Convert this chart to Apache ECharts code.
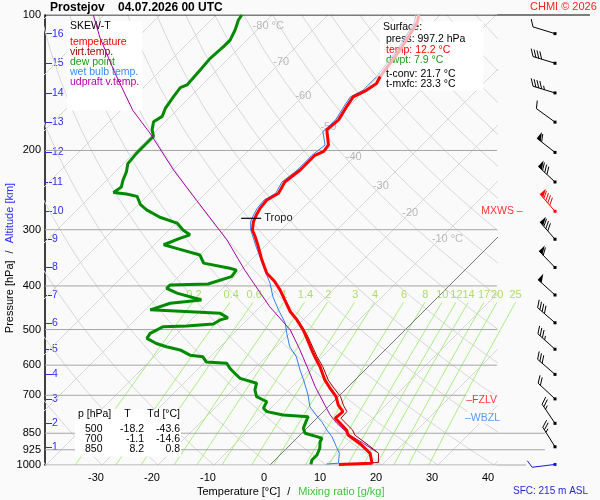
<!DOCTYPE html>
<html>
<head>
<meta charset="utf-8" />
<title>Skew-T Prostejov</title>
<script src="https://cdn.jsdelivr.net/npm/echarts@6.0.0/dist/echarts.min.js"></script>
<style>
  html, body { margin: 0; padding: 0; background: #fafafa; }
  #main { width: 600px; height: 500px; }
</style>
</head>
<body>
<div id="main"></div>
<script>
// sounding: [pressure hPa, value °C]
const temperature = [[997.2, 12.2], [991, 17.9], [942, 15.8], [903, 12.8], [858, 8.6], [836, 7.4], [801, 4.5], [787, 3.3],
  [761, 3.5], [736, 1.5], [705, -0.4], [675, -3.0], [647, -5.4], [605, -8.6], [575, -11.3], [555, -13.1], [519, -16.4],
  [501, -18.2], [476, -21.1], [456, -23.8], [430, -26.8], [408, -29.5], [390, -32.1], [375, -34.8], [350, -38.1],
  [327, -41.1], [311, -43.4], [300.5, -45.1], [288, -46.4], [278, -47.1], [269, -47.6], [258, -47.9], [249, -47.0],
  [235, -47.9], [221, -47.3], [205, -47.3], [201, -46.4], [194.5, -46.7], [180, -49.7], [171, -49.4], [160, -50.3],
  [152, -50.9], [147, -49.7], [142, -49.1], [137, -49.7], [119.6, -50.9], [104, -52.7], [100, -53.8]];
const virtTemp = [[997.2, 12.6], [987, 18.9], [942, 17.3], [903, 14.0], [858, 9.8], [836, 8.5], [801, 5.5], [787, 4.3],
  [761, 4.2], [736, 2.4], [705, 0.4], [675, -2.3], [647, -4.8], [605, -8.1], [575, -10.9], [555, -12.7], [519, -16.1],
  [501, -18.0], [476, -20.9], [456, -23.6], [430, -26.7], [408, -29.4]];
const dewPoint = [[997.2, 7.2], [975, 6.6], [950, 6.6], [918, 5.9], [888, 4.8], [872, 4.5], [865, 3.3], [850, 0.6],
  [829, -0.6], [794, -1.5], [781, -1.8], [774, -6.6], [761, -10.1], [748, -11.3], [723, -11.9], [717, -12.8], [705, -14.6],
  [681, -16.1], [658, -17.0], [642, -20.8], [626, -22.6], [610, -24.4], [594, -25.9], [590, -29.8], [575, -31.3],
  [570, -33.9], [555, -36.6], [546, -39.6], [537, -42.0], [523, -44.6], [519, -45.2], [510, -44.9], [501, -44.3],
  [493, -43.8], [491, -39.7], [486, -35.3], [476, -34.8], [471, -33.8], [460, -36.0], [452, -49.1], [437, -46.7],
  [430, -41.7], [415, -47.3], [405, -50.0], [398, -50.0], [396, -43.4], [381.5, -40.5], [369, -40.8], [365.5, -42.3],
  [356, -47.9], [341.5, -50.0], [330, -55.4], [324, -58.3], [313.5, -56.6], [308, -55.4], [300.5, -57.5], [290, -59.8],
  [281.5, -63.9], [271, -67.6], [264, -69.6], [253, -71.7], [250, -74.0], [248, -76.6], [241, -76.2], [233, -77.1],
  [223, -78.0], [214, -79.2], [203, -79.5], [193, -79.5], [186, -79.5], [180, -80.9], [172.6, -82.1], [168, -81.5],
  [161, -82.4], [152, -83.0], [145, -83.4], [143, -82.7], [132.5, -83.0], [125, -83.3], [117.6, -83.0], [113.7, -83.0],
  [108, -83.9], [102.6, -85.1], [100, -85.4]];
const wetBulb = [[995, 9.9], [991, 11.9], [942, 10.3], [911, 8.6], [865, 6.0], [836, 3.9], [801, 1.5], [787, 0.3],
  [742, -3.3], [699, -5.7], [647, -9.2], [615, -11.6], [575, -14.6], [546, -17.6], [510, -20.5], [484, -22.6],
  [452, -26.2], [423, -29.5], [395, -32.4], [369, -35.7], [327, -41.5], [300.5, -45.4], [288, -46.9], [278, -47.6],
  [269, -48.1], [258, -48.4], [249, -47.5], [235, -48.4], [221, -47.8], [205, -47.8], [194.5, -47.3], [181.6, -50.1],
  [171, -49.9], [160, -50.8], [152, -51.4], [147, -50.3], [137, -50.3], [119.6, -51.4], [104, -53.2], [100, -54.3]];
const updraft = [[934, 16.6], [895, 12.8], [858, 8.9], [808, 4.5], [774, 1.8], [736, -0.9], [670, -5.9], [615, -10.1],
  [555, -15.2], [501, -20.5], [445, -28.3], [369, -39.3], [316, -47.9], [258, -60.4], [221, -69.9], [183, -80.7],
  [163, -87.8], [134, -97.9], [112, -106.8], [100, -111.9]];

// axes and reference lines
const pressureTicks = [100, 200, 300, 400, 500, 600, 700, 850, 925, 1000];
const tempTicks = [-30, -20, -10, 0, 10, 20, 30, 40];
const kmLevels = [1, 2, 3, 4, 5, 6, 7, 8, 9, 10, 11, 12, 13, 14, 15, 16];
const kmPressure = [911, 808, 713, 629, 553, 483, 419, 364, 315, 273, 235, 202, 173, 149, 128, 110];
const isoLabelT = [-80, -70, -60, -50, -40, -30, -20, -10];
const isoLabelP = [106, 127, 151, 177, 207, 240, 275, 315];
const mixRatios = [0.2, 0.4, 0.6, 1, 1.4, 2, 3, 4, 6, 8, 10, 12, 14, 17, 20, 25];

// wind at each km level (direction °, speed kt) and at the surface
const windDir = [328, 326, 313, 311, 312, 311, 312, 316, 319, 319, 313, 308, 306, 287, 287, 287];
const windSpd = [25, 25, 20, 30, 35, 40, 50, 60, 80, 90, 80, 60, 10, 45, 40, 10];
const sfcWind = [997.2, 263, 10];

// levels and tables
const fzlvP = 717, wbzlP = 785;
const tropo = [283, -46.7];
const tableP = [500, 700, 850];
const tableT = ['-18.2', '-1.1', '8.2'];
const tableTd = ['-43.6', '-14.6', '0.8'];
const surface = { press: '997.2', temp: '12.2', dwpt: '7.9', tconv: '21.7', tmxfc: '23.3' };

var myChart = echarts.init(document.getElementById('main'));

const FONT = '"Liberation Sans", Arial, sans-serif';
const SKEW = 450 / 5.6;              // x shift (°C) per decade of pressure
const X_MIN = -225 / 5.6, X_MAX = 227 / 5.6;
const LABEL_SHIFT = 6 / 5.6;         // temperature labels sit slightly left of their isotherm foot
const BARB_COL = 58;                 // wind column inside the right grid
const MIX_TOP = 435, MIX_LABEL_P = 419, PALE_ABOVE = 137;
const lg = Math.log10;

function skewPoint(p, t) { return [t + SKEW * lg(1000 / p), lg(p)]; }
function profile(rows) { return rows.map(r => skewPoint(r[0], r[1])); }
function dewFromMix(w, p) {
  const l = Math.log(w * p / (622 + w) / 6.112);
  return 243.5 * l / (17.67 - l);
}

// background families
const isotherms = [], adiabats = [], mixLines = [];
for (let t = -120; t <= 40; t += 10) {
  if (t !== 0) isotherms.push({ coords: [skewPoint(1000, t), skewPoint(100, t)] });
}
for (let th = -40; th <= 200; th += 10) {
  const c = [];
  for (let p = 1000; p >= 100; p -= 20) c.push(skewPoint(p, (th + 273.15) * Math.pow(p / 1000, 0.2857) - 273.15));
  adiabats.push({ coords: c });
}
mixRatios.forEach(w => {
  const c = [];
  for (let p = 1000; p > MIX_TOP; p -= 50) c.push(skewPoint(p, dewFromMix(w, p)));
  c.push(skewPoint(MIX_TOP, dewFromMix(w, MIX_TOP)));
  mixLines.push({ coords: c });
});

function bgLines(data, color, extra) {
  return Object.assign({
    type: 'lines', coordinateSystem: 'cartesian2d', xAxisIndex: 0, yAxisIndex: 0,
    polyline: true, clip: true, silent: true, z: 1,
    lineStyle: { color: color, width: 1, opacity: 1 }, data: data
  }, extra || {});
}

function curve(rows, color, width) {
  return {
    type: 'line', data: profile(rows), xAxisIndex: 0, yAxisIndex: 0,
    symbol: 'none', showSymbol: false, silent: true, z: 3,
    lineStyle: { color: color, width: width }, itemStyle: { color: color }
  };
}
const lower = rows => rows.filter(r => r[0] >= PALE_ABOVE);
const upper = rows => rows.filter(r => r[0] <= PALE_ABOVE);

// wind barb drawn from [log p, dir, speed]
function barb(colorOf) {
  return function (params, api) {
    const c = api.coord([BARB_COL, api.value(0)]);
    const a = api.value(1) * Math.PI / 180;
    let spd = api.value(2);
    const ux = Math.sin(a), uy = -Math.cos(a);
    const nx = -uy, ny = ux;
    const col = colorOf(params.dataIndex);
    const L = 23;
    const tip = [c[0] + ux * L, c[1] + uy * L];
    const at = s => [tip[0] - ux * s, tip[1] - uy * s];
    const st = { stroke: col, lineWidth: 1 };
    const kids = [
      { type: 'line', shape: { x1: c[0], y1: c[1], x2: tip[0], y2: tip[1] }, style: st },
      { type: 'rect', shape: { x: c[0] - 1.5, y: c[1] - 1.5, width: 3, height: 3 }, style: { fill: col } }
    ];
    let s = 0;
    while (spd >= 50) {
      const p0 = at(s), p1 = at(s + 5);
      kids.push({ type: 'polygon', shape: { points: [p0, p1, [p0[0] + nx * 8, p0[1] + ny * 8]] }, style: { fill: col } });
      s += 6; spd -= 50;
    }
    while (spd >= 10) {
      const p0 = at(s);
      kids.push({ type: 'line', shape: { x1: p0[0], y1: p0[1], x2: p0[0] + nx * 7 + ux * 4, y2: p0[1] + ny * 7 + uy * 4 }, style: st });
      s += 3; spd -= 10;
    }
    if (spd >= 5) {
      const p0 = at(s);
      kids.push({ type: 'line', shape: { x1: p0[0], y1: p0[1], x2: p0[0] + nx * 3.5 + ux * 2, y2: p0[1] + ny * 3.5 + uy * 2 }, style: st });
    }
    return { type: 'group', children: kids };
  };
}

const maxWindIdx = windSpd.indexOf(Math.max.apply(null, windSpd));

const series = [];
series.push(bgLines(isotherms, '#d7d7d7'));
series.push(bgLines(adiabats, '#d7d7d7'));
series.push(bgLines(mixLines, '#a9ee86', { clip: false }));
series.push(bgLines([{ coords: [skewPoint(1000, 0), skewPoint(100, 0)] }], '#777777'));
series.push(bgLines(pressureTicks.map(p => ({
  coords: [[X_MIN, lg(p)], [X_MAX, lg(p)]],
  lineStyle: p === 100 ? { color: '#000000' } : {}
})), '#a6a6a6'));
// extensions of some pressure lines into the wind column
series.push(bgLines([
  { coords: [[0, lg(100)], [93, lg(100)]], lineStyle: { color: '#000000' } },
  { coords: [[0, lg(850)], [48, lg(850)]] },
  { coords: [[0, lg(925)], [48, lg(925)]] },
  { coords: [[0, lg(1000)], [29, lg(1000)]] }
], '#a6a6a6', { xAxisIndex: 1, yAxisIndex: 2, clip: false }));

// isotherm and mixing-ratio labels
series.push({
  type: 'scatter', symbolSize: 0, silent: true, z: 1, clip: false,
  data: isoLabelT.map((t, i) => skewPoint(isoLabelP[i], t)),
  label: {
    show: true, position: 'inside', align: 'left', offset: [-8, 0], color: '#a9a9a9', fontSize: 11,
    formatter: p => isoLabelT[p.dataIndex] + (p.dataIndex === 0 || p.dataIndex === isoLabelT.length - 1 ? ' °C' : '')
  }
});
series.push({
  type: 'scatter', symbolSize: 0, silent: true, z: 1, clip: false,
  data: mixRatios.map(w => skewPoint(MIX_LABEL_P, dewFromMix(w, MIX_LABEL_P))),
  label: {
    show: true, position: 'inside', align: 'center', offset: [-4, 0], color: '#98d63e', fontSize: 11,
    formatter: p => String(mixRatios[p.dataIndex])
  }
});

series.push(curve(dewPoint, '#008a00', 3));
series.push(curve(lower(wetBulb), '#2f7cf0', 1));
series.push(curve(upper(wetBulb), '#aecbf7', 1));
series.push(curve(updraft, '#a400a4', 1));
series.push(curve(virtTemp, '#9c0000', 1));
series.push(curve(upper(temperature), '#ffb0b0', 3));
series.push(curve(lower(temperature), '#ff0000', 3));

// tropopause mark
series.push({
  type: 'custom', xAxisIndex: 0, yAxisIndex: 0, z: 4, silent: true, clip: false,
  data: [skewPoint(tropo[0], tropo[1])],
  renderItem: function (params, api) {
    const c = api.coord([api.value(0), api.value(1)]);
    return {
      type: 'group', children: [
        { type: 'line', shape: { x1: c[0] - 14, y1: c[1], x2: c[0] + 6, y2: c[1] }, style: { stroke: '#000', lineWidth: 1.2 } },
        { type: 'text', x: c[0] + 9, y: c[1], style: { text: 'Tropo', fill: '#222', font: '11px ' + FONT, align: 'left', verticalAlign: 'middle' } }
      ]
    };
  }
});

// level marks at the right edge
series.push({
  type: 'scatter', symbolSize: 0, silent: true, z: 4, clip: false,
  label: { show: true, fontSize: 10.5, backgroundColor: '#ffffff', padding: [1, 0, 0, 0] },
  data: [
    { value: [X_MAX, lg(fzlvP)], label: { formatter: '–FZLV', color: '#ff0000', position: 'inside', align: 'right', offset: [0, 0] } },
    { value: [X_MAX, lg(wbzlP)], label: { formatter: '–WBZL', color: '#2f7cf0', position: 'inside', align: 'right', offset: [3, 0] } },
    { value: [X_MAX, lg(kmPressure[maxWindIdx])], label: { formatter: 'MXWS –', color: '#ff0000', position: 'inside', align: 'center', offset: [5, 0], backgroundColor: 'transparent' } }
  ]
});

// wind barbs
series.push({
  type: 'custom', xAxisIndex: 1, yAxisIndex: 2, z: 3, silent: true, clip: false,
  data: kmPressure.map((p, i) => [lg(p), windDir[i], windSpd[i]]),
  renderItem: barb(i => (i === maxWindIdx ? '#ff0000' : '#000000'))
});
series.push({
  type: 'custom', xAxisIndex: 1, yAxisIndex: 2, z: 3, silent: true, clip: false,
  data: [[lg(sfcWind[0]), sfcWind[1], sfcWind[2]]],
  renderItem: barb(() => '#1414e6')
});

const tableText = ['{ha|p [hPa]}{hb|T}{hc|Td [°C]}']
  .concat(tableP.map((p, i) => '{ca|' + p + '}{cb|' + tableT[i] + '}{cc|' + tableTd[i] + '}'))
  .join('\n');

const N = 'normal';
option = {
  backgroundColor: '#fafafa',
  animation: false,
  textStyle: { fontFamily: FONT },
  title: [
    { text: 'Prostejov    04.07.2026 00 UTC', left: 50, top: 0, padding: 0,
      textStyle: { fontSize: 12, fontWeight: 'bold', color: '#000', lineHeight: 15, fontFamily: FONT } },
    { text: 'CHMI © 2026', left: 530, top: 1, padding: 0,
      textStyle: { fontSize: 11, fontWeight: N, color: '#ff2020', lineHeight: 12, fontFamily: FONT } },
    { text: '{k|SKEW-T}\n{r|temperature}\n{v|virt.temp.}\n{g|dew point}\n{b|wet bulb temp.}\n{u|udpraft v.temp.}',
      left: 67, top: 16, padding: [0, 3, 23, 3], backgroundColor: '#ffffff', z: 2,
      textStyle: { fontSize: 10.5, fontWeight: N, fontFamily: FONT, rich: {
        k: { color: '#000', fontSize: 10.5, fontWeight: N, lineHeight: 21 },
        r: { color: '#ff0000', fontSize: 10.5, fontWeight: N, lineHeight: 10 },
        v: { color: '#a00000', fontSize: 10.5, fontWeight: N, lineHeight: 10 },
        g: { color: '#1b9a1b', fontSize: 10.5, fontWeight: N, lineHeight: 10 },
        b: { color: '#3a8aff', fontSize: 10.5, fontWeight: N, lineHeight: 10 },
        u: { color: '#b400b4', fontSize: 10.5, fontWeight: N, lineHeight: 10 }
      } } },
    { text: '{h|Surface:}\n{n1|press: ' + surface.press + ' hPa}\n{r|temp: ' + surface.temp + ' °C}\n{g|dwpt: ' +
        surface.dwpt + ' °C}\n{s| }\n{n|t-conv: ' + surface.tconv + ' °C}\n{n|t-mxfc: ' + surface.tmxfc + ' °C}',
      left: 380, top: 20, padding: [0, 18, 1, 3], backgroundColor: '#ffffff', z: 2,
      textStyle: { fontSize: 10.5, fontWeight: N, fontFamily: FONT, rich: {
        h: { color: '#000', fontSize: 10.5, fontWeight: N, lineHeight: 14 },
        n1: { color: '#000', fontSize: 10.5, fontWeight: N, lineHeight: 11, padding: [0, 0, 0, 3] },
        r: { color: '#ff0000', fontSize: 10.5, fontWeight: N, lineHeight: 10, padding: [0, 0, 0, 3] },
        g: { color: '#1b9a1b', fontSize: 10.5, fontWeight: N, lineHeight: 10, padding: [0, 0, 0, 3] },
        s: { fontSize: 4, lineHeight: 4 },
        n: { color: '#000', fontSize: 10.5, fontWeight: N, lineHeight: 10, padding: [0, 0, 0, 3] }
      } } },
    { text: tableText, left: 75, top: 405, padding: [0, 1, 2, 3], backgroundColor: '#ffffff', z: 2,
      textStyle: { fontSize: 10.5, fontWeight: N, fontFamily: FONT, rich: {
        ha: { color: '#000', fontSize: 10.5, fontWeight: N, lineHeight: 19, width: 35, align: 'left' },
        hb: { color: '#000', fontSize: 10.5, fontWeight: N, lineHeight: 19, width: 29, align: 'center' },
        hc: { color: '#000', fontSize: 10.5, fontWeight: N, lineHeight: 19, width: 38, align: 'right' },
        ca: { color: '#000', fontSize: 10.5, fontWeight: N, lineHeight: 10, width: 35, align: 'left', padding: [0, 0, 0, 7] },
        cb: { color: '#000', fontSize: 10.5, fontWeight: N, lineHeight: 10, width: 24, align: 'right' },
        cc: { color: '#000', fontSize: 10.5, fontWeight: N, lineHeight: 10, width: 36, align: 'right' }
      } } },
    { text: '{a|Temperature [°C]}{s|/}{b|Mixing ratio [g/kg]}', left: 197, top: 486, padding: 0,
      textStyle: { fontSize: 11, fontWeight: N, fontFamily: FONT, rich: {
        a: { color: '#000', fontSize: 11, fontWeight: N },
        s: { color: '#000', fontSize: 11, fontWeight: N, padding: [0, 8, 0, 7] },
        b: { color: '#3cc63c', fontSize: 11, fontWeight: N }
      } } },
    { text: 'SFC: 215 m ASL', left: 513, top: 486, padding: 0,
      textStyle: { fontSize: 10, fontWeight: N, color: '#2626d9', fontFamily: FONT } }
  ],
  grid: [
    { left: 45, right: 103, top: 15, bottom: 35, containLabel: false, outerBoundsMode: 'none' },
    { left: 497, right: 0, top: 15, bottom: 35, containLabel: false, outerBoundsMode: 'none' }
  ],
  xAxis: [
    { type: 'value', gridIndex: 0, min: X_MIN, max: X_MAX,
      axisLine: { show: false }, axisTick: { show: false }, splitLine: { show: false },
      axisLabel: { customValues: tempTicks.map(v => v - LABEL_SHIFT), color: '#000', fontSize: 11, margin: 7,
        formatter: v => String(Math.round(v + LABEL_SHIFT)) } },
    { type: 'value', gridIndex: 1, min: 0, max: 103, show: false }
  ],
  yAxis: [
    { type: 'value', gridIndex: 0, min: 2, max: 3, inverse: true, position: 'left',
      axisLine: { show: true, onZero: false, lineStyle: { color: '#000', width: 1.5 } },
      axisTick: { show: false }, splitLine: { show: false },
      axisLabel: { customValues: pressureTicks.map(lg), color: '#000', fontSize: 11, margin: 4,
        formatter: v => String(Math.round(Math.pow(10, v))) },
      name: '{a|Pressure [hPa]}{s|/}{b|Altitude [km]}', nameLocation: 'middle', nameRotate: 90, nameGap: 30,
      nameMoveOverlap: false,
      nameTextStyle: { fontSize: 11, rich: {
        a: { color: '#000', fontSize: 11 },
        s: { color: '#000', fontSize: 11, padding: [0, 7, 0, 7] },
        b: { color: '#2b2bff', fontSize: 11, padding: [0, 36, 0, 0] }
      } } },
    { type: 'value', gridIndex: 0, min: 2, max: 3, inverse: true, position: 'left',
      axisLine: { show: false, onZero: false }, splitLine: { show: false },
      axisTick: { show: true, inside: true, length: 7, customValues: kmPressure.map(lg), lineStyle: { color: '#2b2bff', width: 1 } },
      axisLabel: { inside: true, margin: 7, customValues: kmPressure.map(lg), color: '#2b2bff', fontSize: 10.5,
        formatter: v => String(kmLevels[kmPressure.findIndex(p => Math.abs(lg(p) - v) < 1e-6)]) } },
    { type: 'value', gridIndex: 1, min: 2, max: 3, inverse: true, show: false }
  ],
  series: series
};

myChart.setOption(option);
</script>
</body>
</html>
